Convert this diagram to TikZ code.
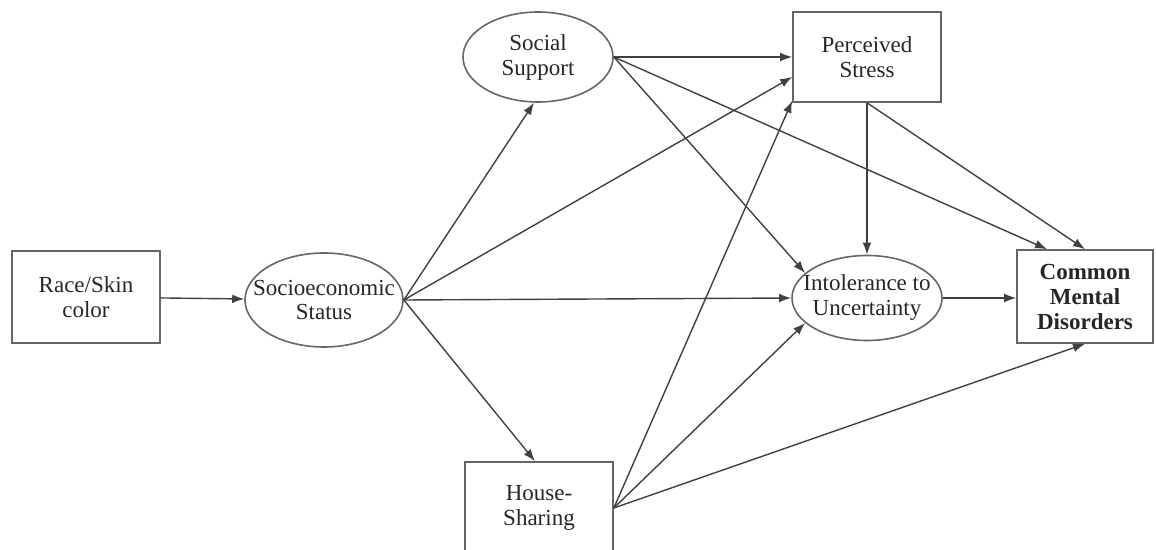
\documentclass[tikz,border=0pt]{standalone}
\usepackage{fontspec}
\setmainfont{Liberation Serif}
\usetikzlibrary{calc,shapes.geometric,arrows.meta}

\begin{document}
\begin{tikzpicture}[
    x=0.5pt, y=-0.5pt,
    every node/.style={font=\fontsize{11.5}{12.5}\selectfont, text=black!85},
    obs/.style={rectangle, draw=black!60, line width=0.8pt, minimum width=74pt, minimum height=46pt, align=center, inner sep=0pt},
    latent/.style={ellipse, draw=black!60, line width=0.8pt, minimum width=75pt, minimum height=45pt, inner sep=0pt},
    path/.style={-{Latex[length=6pt,width=4.4pt]}, draw=black!75, line width=0.7pt},
]
\useasboundingbox (0,0) rectangle (1156,550);
\node[obs] (race) at (86,297) {Race/Skin\\color};
\node[latent, minimum width=79pt, minimum height=47pt, label={[align=center]center:{Socioeconomic\\Status}}] (ses) at (324,300) {};
\node[latent, label={[align=center]center:{Social\\Support}}] (ss) at (538,57) {};
\node[obs, minimum height=45pt] (ps) at (867,57) {Perceived\\Stress};
\node[latent, minimum height=42.5pt, label={[align=center]center:{Intolerance to\\Uncertainty}}] (int) at (867,298) {};
\node[obs, minimum width=68pt, minimum height=46.5pt, font=\fontsize{11.5}{12.5}\selectfont\bfseries] (cmd) at (1085,296.5) {Common\\Mental\\Disorders};
\node[obs] (hs) at (539,508) {House-\\Sharing};
\draw[path] (race) -- (ses);
\draw[path] (ses.east) -- ($(ss.south)+(-4,0)$);
\draw[path] (ses.east) -- ($(ps.west)+(0,20)$);
\draw[path] (ses.east) -- (int.west);
\draw[path] (ses.east) -- ($(hs.north)+(-4,0)$);
\draw[path] (ss.east) -- (ps.west);
\draw[path] (ss.east) -- (int.158);
\draw[path] (ss.east) -- ($(cmd.north)+(-38,0)$);
\draw[path] (ps.south) -- (int.north);
\draw[path] (ps.south) -- (cmd.north);
\draw[path] (int.east) -- (cmd.west |- int.east);
\draw[path] (hs.east) -- ($(ps.south west)+(0,-2)$);
\draw[path] (hs.east) -- (int.202);
\draw[path] (hs.east) -- (cmd.south);
\end{tikzpicture}
\end{document}
